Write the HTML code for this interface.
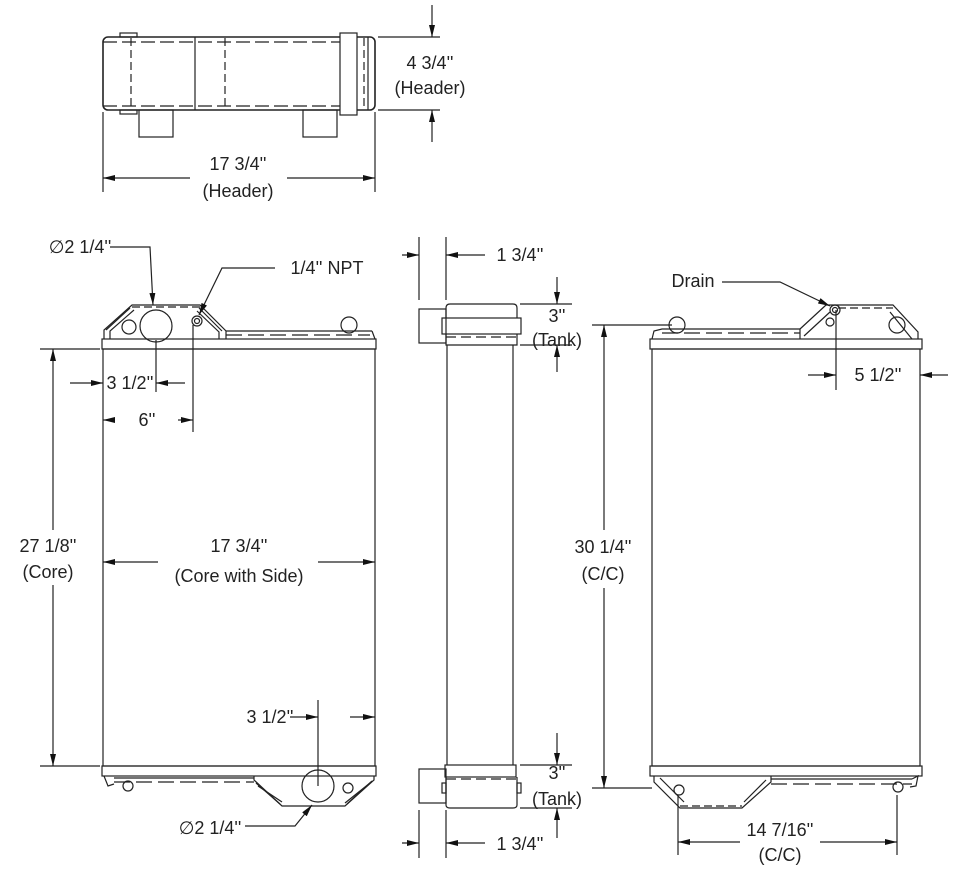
<!DOCTYPE html>
<html><head><meta charset="utf-8"><style>
html,body{margin:0;padding:0;background:#fff;}
svg{display:block;}
text{font-family:"Liberation Sans",sans-serif;font-size:18px;fill:#222;text-anchor:middle;}
</style></head><body>
<svg width="960" height="875" viewBox="0 0 960 875" xmlns="http://www.w3.org/2000/svg">
<defs>
<marker id="a" viewBox="0 0 12 6" refX="12" refY="3" markerWidth="12" markerHeight="6" orient="auto" markerUnits="userSpaceOnUse"><path d="M0,0L12,3L0,6z" fill="#111"/></marker>
</defs>
<g fill="none" stroke="#222" stroke-width="1.2">
<!-- TOP VIEW -->
<rect x="103" y="37" width="272" height="73" rx="5" stroke-width="1.6"/>
<rect x="120" y="33" width="17" height="4"/><rect x="120" y="110" width="17" height="4"/>
<line x1="131" y1="38" x2="131" y2="109" stroke-dasharray="8,4"/>
<line x1="195" y1="37" x2="195" y2="110"/>
<line x1="225" y1="38" x2="225" y2="109" stroke-dasharray="8,4"/>
<line x1="103" y1="42" x2="340" y2="42" stroke-dasharray="14,5"/>
<line x1="103" y1="106" x2="340" y2="106" stroke-dasharray="14,5"/>
<rect x="340" y="33" width="17" height="82" fill="#fff"/>
<line x1="364" y1="38" x2="364" y2="109" stroke-dasharray="8,4"/>
<line x1="368" y1="37" x2="368" y2="110"/>
<rect x="139" y="110" width="34" height="27"/><rect x="303" y="110" width="34" height="27"/>
<line x1="103" y1="112" x2="103" y2="192"/><line x1="375" y1="112" x2="375" y2="192"/>
<line x1="190" y1="178" x2="103" y2="178" marker-end="url(#a)"/>
<line x1="287" y1="178" x2="375" y2="178" marker-end="url(#a)"/>
<line x1="378" y1="37" x2="440" y2="37"/><line x1="378" y1="110" x2="440" y2="110"/>
<line x1="432" y1="5" x2="432" y2="37" marker-end="url(#a)"/>
<line x1="432" y1="142" x2="432" y2="110" marker-end="url(#a)"/>

<!-- FRONT VIEW -->
<rect x="103" y="349" width="272" height="417"/>
<rect x="102" y="339" width="274" height="10"/>
<path d="M104,339 L104,330 L132,305 L200,305 L226,331 L226,339"/>
<line x1="132" y1="307" x2="200" y2="307" stroke-dasharray="8,4"/>
<path d="M110,339 L110,331 L134,310"/><path d="M219,339 L219,332 L197,311"/>
<path d="M106,330 L130,308"/><path d="M222,331 L199,308"/>
<line x1="226" y1="331" x2="372" y2="331"/>
<line x1="226" y1="335" x2="370" y2="335" stroke-dasharray="16,6"/>
<path d="M372,331 L375,339"/>
<circle cx="129" cy="327" r="7"/><circle cx="156" cy="326" r="16"/>
<circle cx="197" cy="321" r="5"/><circle cx="197" cy="321" r="2.5"/>
<circle cx="349" cy="325" r="8"/>
<rect x="102" y="766" width="274" height="10"/>
<path d="M104,776 L108,786 L114,784"/><line x1="114" y1="778" x2="254" y2="778"/>
<line x1="114" y1="782" x2="254" y2="782" stroke-dasharray="16,6"/>
<path d="M254,776 L254,780 L282,806 L345,806 L374,780 L374,776"/>
<path d="M258,786 L282,802"/><path d="M370,783 L345,803"/>
<path d="M256,783 L280,804"/><path d="M372,781 L347,804"/>
<circle cx="318" cy="786" r="16"/><circle cx="348" cy="788" r="5"/><circle cx="128" cy="786" r="5"/>
<!-- dims front -->
<line x1="40" y1="349" x2="100" y2="349"/><line x1="40" y1="766" x2="100" y2="766"/>
<line x1="53" y1="530" x2="53" y2="349" marker-end="url(#a)"/>
<line x1="53" y1="585" x2="53" y2="766" marker-end="url(#a)"/>
<line x1="158" y1="562" x2="103" y2="562" marker-end="url(#a)"/>
<line x1="318" y1="562" x2="375" y2="562" marker-end="url(#a)"/>
<line x1="156" y1="340" x2="156" y2="392"/><line x1="193" y1="325" x2="193" y2="432"/>
<line x1="70" y1="383" x2="103" y2="383" marker-end="url(#a)"/>
<line x1="185" y1="383" x2="156" y2="383" marker-end="url(#a)"/>
<line x1="115" y1="420" x2="103" y2="420" marker-end="url(#a)"/>
<line x1="178" y1="420" x2="193" y2="420" marker-end="url(#a)"/>
<path d="M110,247 L150,247 L153,305" marker-end="url(#a)"/>
<path d="M275,268 L222,268 L199,315" marker-end="url(#a)"/>
<line x1="318" y1="700" x2="318" y2="786"/>
<line x1="290" y1="717" x2="318" y2="717" marker-end="url(#a)"/>
<line x1="350" y1="717" x2="375" y2="717" marker-end="url(#a)"/>
<path d="M245,826 L295,826 L312,805" marker-end="url(#a)"/>

<!-- SIDE VIEW -->
<line x1="447" y1="345" x2="447" y2="765"/><line x1="513" y1="345" x2="513" y2="765"/>
<path d="M446,318 L446,308 Q446,304 450,304 L513,304 Q517,304 517,308 L517,318"/>
<rect x="442" y="318" width="79" height="16"/>
<path d="M446,334 L446,345 L517,345 L517,334"/>
<line x1="446" y1="337" x2="517" y2="337" stroke-dasharray="10,5"/>
<rect x="419" y="309" width="27" height="34"/>
<line x1="419" y1="237" x2="419" y2="300"/><line x1="446" y1="237" x2="446" y2="300"/>
<line x1="402" y1="255" x2="419" y2="255" marker-end="url(#a)"/>
<line x1="485" y1="255" x2="446" y2="255" marker-end="url(#a)"/>
<line x1="520" y1="304" x2="572" y2="304"/><line x1="520" y1="345" x2="572" y2="345"/>
<line x1="557" y1="277" x2="557" y2="304" marker-end="url(#a)"/>
<line x1="557" y1="372" x2="557" y2="345" marker-end="url(#a)"/>
<rect x="445" y="765" width="71" height="12"/>
<path d="M446,777 L446,805 Q446,808 450,808 L513,808 Q517,808 517,805 L517,777"/>
<line x1="446" y1="779" x2="517" y2="779" stroke-dasharray="10,5"/>
<rect x="419" y="769" width="27" height="34"/>
<rect x="442" y="783" width="4" height="10"/><rect x="517" y="783" width="4" height="10"/>
<line x1="520" y1="765" x2="572" y2="765"/><line x1="520" y1="808" x2="572" y2="808"/>
<line x1="557" y1="733" x2="557" y2="765" marker-end="url(#a)"/>
<line x1="557" y1="838" x2="557" y2="808" marker-end="url(#a)"/>
<line x1="419" y1="810" x2="419" y2="858"/><line x1="446" y1="810" x2="446" y2="858"/>
<line x1="402" y1="843" x2="419" y2="843" marker-end="url(#a)"/>
<line x1="485" y1="843" x2="446" y2="843" marker-end="url(#a)"/>

<!-- RIGHT VIEW -->
<rect x="652" y="349" width="268" height="417"/>
<rect x="650" y="339" width="272" height="10"/>
<path d="M652,339 L654,331 L662,329 L800,329 L800,339"/>
<line x1="662" y1="333" x2="800" y2="333" stroke-dasharray="16,6"/>
<path d="M800,329 L826,305 L893,305 L918,332 L918,339"/>
<line x1="838" y1="308" x2="893" y2="308" stroke-dasharray="8,4"/>
<path d="M804,336 L830,312"/><path d="M912,339 L890,312"/>
<circle cx="677" cy="325" r="8"/>
<circle cx="835" cy="310" r="5"/><circle cx="835" cy="310" r="2.5"/><circle cx="830" cy="322" r="4"/>
<circle cx="897" cy="325" r="8"/>
<rect x="650" y="766" width="272" height="10"/>
<path d="M654,776 L654,782 L680,808 L742,808 L771,782 L771,776"/>
<line x1="680" y1="806" x2="742" y2="806" stroke-dasharray="8,4"/>
<path d="M660,778 L684,802"/><path d="M744,802 L766,780"/>
<line x1="771" y1="779" x2="912" y2="779"/>
<line x1="771" y1="784" x2="912" y2="784" stroke-dasharray="16,6"/>
<path d="M912,779 L918,776 L916,786 L910,787"/>
<circle cx="679" cy="790" r="5"/><circle cx="898" cy="787" r="5"/>
<line x1="592" y1="325" x2="672" y2="325"/><line x1="592" y1="788" x2="652" y2="788"/>
<line x1="604" y1="530" x2="604" y2="325" marker-end="url(#a)"/>
<line x1="604" y1="588" x2="604" y2="788" marker-end="url(#a)"/>
<line x1="836" y1="310" x2="836" y2="390"/>
<line x1="808" y1="375" x2="836" y2="375" marker-end="url(#a)"/>
<line x1="948" y1="375" x2="920" y2="375" marker-end="url(#a)"/>
<path d="M722,282 L780,282 L830,306" marker-end="url(#a)"/>
<line x1="678" y1="795" x2="678" y2="855"/><line x1="897" y1="795" x2="897" y2="855"/>
<line x1="740" y1="842" x2="678" y2="842" marker-end="url(#a)"/>
<line x1="820" y1="842" x2="897" y2="842" marker-end="url(#a)"/>
</g>
<g>
<text x="430" y="69">4 3/4''</text><text x="430" y="94">(Header)</text>
<text x="238" y="170">17 3/4''</text><text x="238" y="197">(Header)</text>
<text x="80" y="253">∅2 1/4''</text>
<text x="327" y="274">1/4'' NPT</text>
<text x="130" y="389">3 1/2''</text>
<text x="147" y="426">6''</text>
<text x="48" y="552">27 1/8''</text><text x="48" y="578">(Core)</text>
<text x="239" y="552">17 3/4''</text><text x="239" y="582">(Core with Side)</text>
<text x="270" y="723">3 1/2''</text>
<text x="210" y="834">∅2 1/4''</text>
<text x="520" y="261">1 3/4''</text>
<text x="557" y="322">3''</text><text x="557" y="346">(Tank)</text>
<text x="557" y="779">3''</text><text x="557" y="805">(Tank)</text>
<text x="520" y="850">1 3/4''</text>
<text x="693" y="287">Drain</text>
<text x="603" y="553">30 1/4''</text><text x="603" y="580">(C/C)</text>
<text x="878" y="381">5 1/2''</text>
<text x="780" y="836">14 7/16''</text><text x="780" y="861">(C/C)</text>
</g>
</svg>
</body></html>
